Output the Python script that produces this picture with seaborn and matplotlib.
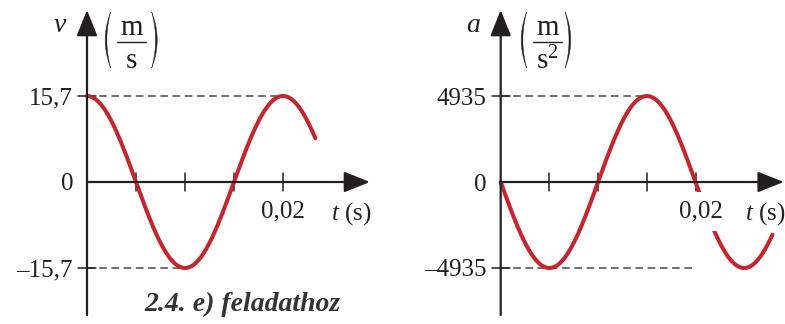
import numpy as np
import pandas as pd
import matplotlib
matplotlib.use("Agg")
import matplotlib.pyplot as plt
import seaborn as sns

# Harmonic oscillation: velocity and acceleration against time
period = 0.02          # s
v_amplitude = 15.7     # m/s
a_amplitude = 4935     # m/s^2
v_t_end = 0.0233       # s, where the velocity curve stops
a_t_end = 0.0279       # s, where the acceleration curve stops
t_ticks = [0.005, 0.01, 0.015, 0.02]
t_tick_label = "0,02"
v_tick_labels = ["15,7", "0", "–15,7"]
a_tick_labels = ["4935", "0", "–4935"]
caption = "2.4. e) feladathoz"

sns.set_theme(style="white")
plt.rcParams["font.family"] = ["Liberation Serif", "DejaVu Serif"]
plt.rcParams["mathtext.fontset"] = "custom"
plt.rcParams["mathtext.rm"] = "Liberation Serif"
plt.rcParams["mathtext.it"] = "Liberation Serif:italic"

W, H = 785, 324
fig = plt.figure(figsize=(W / 100, H / 100), dpi=100)
fig.patch.set_facecolor("white")

INK = "#231f20"
RED = "#c1272d"
DASH = "#4a4a4a"
FS = 18


def panel(left_px, width_px, origin_px, px_per_s, px_per_unit):
    ax = fig.add_axes([left_px / W, 0, width_px / W, 1])
    ox, oy = origin_px
    ax.set_xlim(-(ox - left_px) / px_per_s, (left_px + width_px - ox) / px_per_s)
    ax.set_ylim(-(H - oy) / px_per_unit, oy / px_per_unit)
    ax.axis("off")
    # pixel -> data helpers
    px_x = lambda p: p / px_per_s
    px_y = lambda p: p / px_per_unit
    return ax, px_x, px_y


def paren(ax, px_x, px_y, chord_x, bulge, y_top, y_bot, thick=1.7):
    """Tall thin parenthesis as a tapered crescent; bulge<0 opens to the right."""
    s = np.linspace(-1, 1, 60)
    ys = (y_top + y_bot) / 2 + s * (y_top - y_bot) / 2
    k = 1 - s ** 2
    outer = chord_x + bulge * k
    inner = chord_x + (bulge - np.sign(bulge) * thick) * k
    xs = np.concatenate([outer, inner[::-1]])
    yy = np.concatenate([ys, ys[::-1]])
    ax.fill(px_x(xs), px_y(yy), color=INK, lw=0.3, ec=INK)


def unit_fraction(ax, px_x, px_y, num, den, cx, lchord, rchord):
    """Unit written as a stacked fraction inside tall parentheses."""
    ax.text(px_x(cx), px_y(157), num, ha="center", va="center_baseline",
            fontsize=21, color=INK)
    ax.plot([px_x(cx - 14.5), px_x(cx + 14.5)], [px_y(140), px_y(140)],
            color=INK, lw=1.0)
    ax.text(px_x(cx), px_y(124), den, ha="center", va="center_baseline",
            fontsize=21, color=INK)
    paren(ax, px_x, px_y, lchord, -5.5, 170, 114)
    paren(ax, px_x, px_y, rchord, 5.5, 170, 114)


def draw_axes(ax, px_x, px_y, amp, t_peak_hi, t_peak_lo, labels, sym, lab_dx=0):
    arrow = dict(arrowstyle="-|>,head_length=0.8,head_width=0.32",
                 color=INK, lw=1.6, shrinkA=0, shrinkB=0, mutation_scale=20)
    # vertical axis
    ax.annotate("", xy=(0, px_y(172)), xytext=(0, -px_y(133)), arrowprops=arrow)
    # horizontal axis
    ax.annotate("", xy=(px_x(283), 0), xytext=(0, 0), arrowprops=arrow)
    # ticks on the time axis
    for t in t_ticks:
        ax.plot([t, t], [-px_y(9), px_y(9)], color=INK, lw=1.1)
    # ticks on the value axis
    for y in (amp, -amp):
        ax.plot([-px_x(9), px_x(9)], [y, y], color=INK, lw=1.1)
    # dashed guides to the extrema
    ax.plot([0, t_peak_hi], [amp, amp], color=DASH, lw=1.1, ls=(0, (5, 3)), zorder=1)
    ax.plot([0, t_peak_lo], [-amp, -amp], color=DASH, lw=1.1, ls=(0, (5, 3)), zorder=1)
    # value labels
    for y, lab in zip((amp, 0, -amp), labels):
        ax.text(-px_x(14), y, lab, ha="right", va="center_baseline",
                fontsize=FS, color=INK)
    ax.text(t_ticks[-1] + px_x(lab_dx), -px_y(27), t_tick_label, ha="center",
            va="center_baseline", fontsize=FS, color=INK, zorder=5,
            bbox=dict(boxstyle="square,pad=0.35", fc="white", ec="none"))
    ax.text(px_x(244), -px_y(28), r"$t$ (s)", ha="left", va="center_baseline",
            fontsize=FS, color=INK)
    ax.text(-px_x(27), px_y(160), sym, ha="center", va="center_baseline",
            fontsize=FS + 2, color=INK)


# velocity panel
ax1, px_x1, px_y1 = panel(0, 392, (87, 182), 9800, 86 / v_amplitude)
t1 = np.linspace(0, v_t_end, 400)
df1 = pd.DataFrame({"t": t1, "v": v_amplitude * np.cos(2 * np.pi * t1 / period)})
sns.lineplot(data=df1, x="t", y="v", ax=ax1, color=RED, lw=2.9, sort=False,
             zorder=3)
draw_axes(ax1, px_x1, px_y1, v_amplitude, period, period / 2, v_tick_labels, r"$v$")
unit_fraction(ax1, px_x1, px_y1, "m", "s", 44.5, 23.7, 64.7)
ax1.axis("off")

# acceleration panel
ax2, px_x2, px_y2 = panel(392, 393, (500.7, 182), 9740, 86 / a_amplitude)
t2 = np.linspace(0, a_t_end, 400)
df2 = pd.DataFrame({"t": t2, "a": -a_amplitude * np.sin(2 * np.pi * t2 / period)})
sns.lineplot(data=df2, x="t", y="a", ax=ax2, color=RED, lw=2.9, sort=False,
             zorder=3)
draw_axes(ax2, px_x2, px_y2, a_amplitude, 0.75 * period, period, a_tick_labels,
          r"$a$", lab_dx=5)
unit_fraction(ax2, px_x2, px_y2, "m", r"s$^2$", 46.8, 26, 64.5)
ax2.axis("off")

fig.text(242 / W, 1 - 304 / H, caption, ha="center", va="center",
         fontsize=20, style="italic", fontweight="bold", color="#333333")

fig.savefig("out.png", dpi=100, facecolor="white")
